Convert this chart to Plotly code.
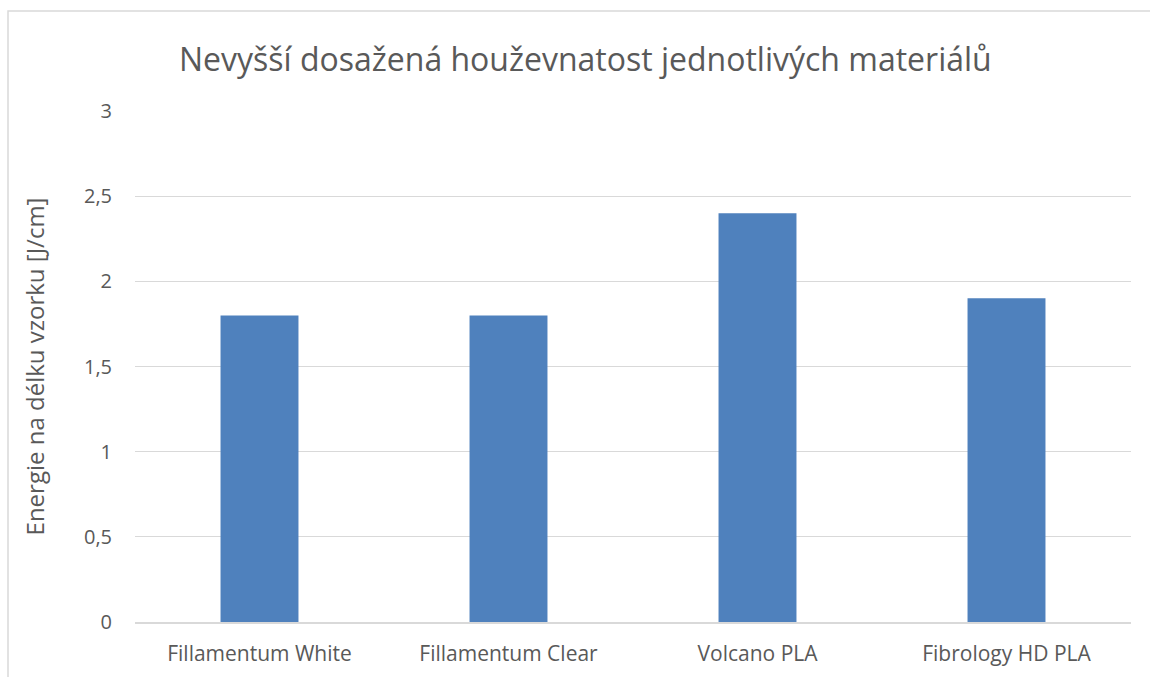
"""Nejvyšší houževnatost materiálů — sloupcový graf ve stylu Excelu."""

import plotly.graph_objects as go

materials = ["Fillamentum White", "Fillamentum Clear", "Volcano PLA", "Fibrology HD PLA"]
toughness = [1.8, 1.8, 2.4, 1.9]

_BAR = "#4F81BD"
_TEXT = "#595959"
_GRID = "#D9D9D9"
_FONT = "Open Sans, Noto Sans, sans-serif"

fig = go.Figure()
fig.add_trace(go.Bar(
    x=materials, y=toughness,
    marker_color=_BAR, marker_line_width=0,
    width=0.313,
))

# chart frame (Excel chart area border)
fig.add_shape(
    type="rect", xref="paper", yref="paper",
    x0=-0.1275, x1=1.2, y0=-0.3, y1=1.1957,
    line=dict(color=_GRID, width=1.5), layer="below",
)

fig.update_layout(
    width=1150, height=677,
    margin=dict(l=135, r=19, t=111, b=55),
    paper_bgcolor="white", plot_bgcolor="white",
    separators=", ",
    font=dict(family=_FONT, color=_TEXT, size=20),
    title=dict(
        text="Nevyšší dosažená houževnatost jednotlivých materiálů",
        x=0.509, xanchor="center", y=0.912, yanchor="middle",
        font=dict(size=32, color=_TEXT, family=_FONT),
    ),
    showlegend=False,
)
fig.update_xaxes(
    showgrid=False, showline=True, linecolor=_GRID, linewidth=1.5,
    ticks="", ticklabelstandoff=12, automargin=False,
    tickfont=dict(size=21, color=_TEXT),
)
fig.update_yaxes(
    range=[0, 3], dtick=0.5, showgrid=True, gridcolor=_GRID, gridwidth=1.2,
    zeroline=False, showline=False, ticks="", ticklabelstandoff=22,
    automargin=False,
    tickfont=dict(size=20, color=_TEXT),
    title=dict(text="Energie na délku vzorku [J/cm]", standoff=32,
               font=dict(size=24, color=_TEXT)),
)

fig.write_html("out.html", config={"displayModeBar": False},
               post_script="document.body.style.margin='0';")
